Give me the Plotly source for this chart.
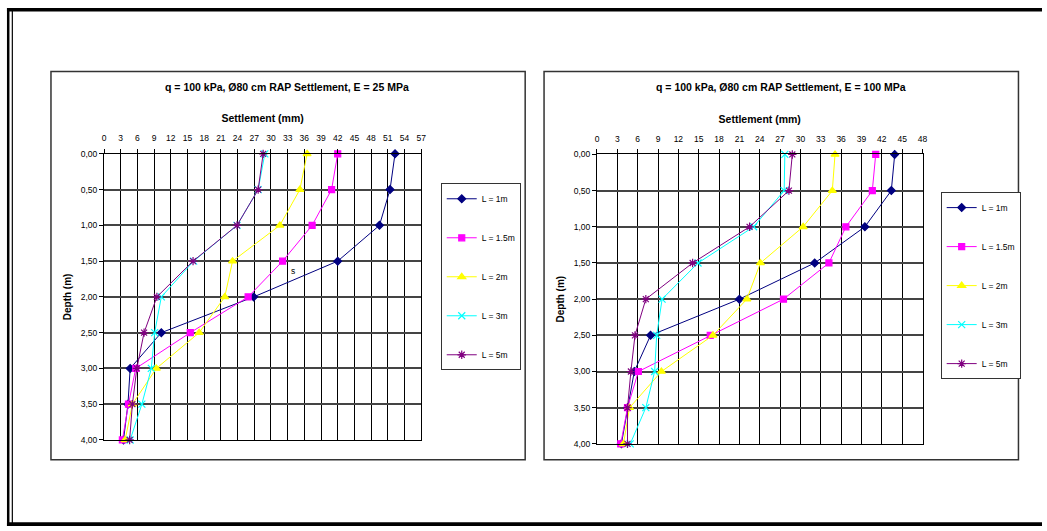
import plotly.graph_objects as go

W, H = 1047, 531

depth = [0.0, 0.5, 1.0, 1.5, 2.0, 2.5, 3.0, 3.5, 4.0]
labels = ["L = 1m", "L = 1.5m", "L = 2m", "L = 3m", "L = 5m"]

# E = 25 MPa settlements (mm)
e25_L1 = [52.3, 51.4, 49.5, 42.0, 26.9, 10.3, 4.7, 4.3, 3.5]
e25_L15 = [42.0, 40.9, 37.4, 32.1, 25.9, 15.5, 5.7, 4.4, 3.3]
e25_L2 = [36.5, 35.2, 31.6, 23.1, 21.7, 17.1, 9.4, 5.1, 3.8]
e25_L3 = [28.9, 27.7, 23.9, 16.1, 10.3, 9.1, 8.5, 6.8, 4.7]
e25_L5 = [28.6, 27.7, 23.9, 16.0, 9.5, 7.2, 5.9, 5.1, 4.6]

# E = 100 MPa settlements (mm)
e100_L1 = [43.9, 43.4, 39.5, 32.1, 21.0, 7.9, 5.5, 4.5, 3.6]
e100_L15 = [41.1, 40.6, 36.7, 34.2, 27.5, 16.7, 6.1, 4.5, 3.5]
e100_L2 = [35.1, 34.7, 30.4, 24.1, 22.1, 17.1, 9.5, 4.8, 3.9]
e100_L3 = [27.7, 27.6, 23.1, 14.9, 9.6, 8.8, 8.5, 7.2, 4.9]
e100_L5 = [28.8, 28.3, 22.5, 14.1, 7.2, 5.6, 5.0, 4.5, 4.5]

xticks_left = list(range(0, 58, 3))
xticks_right = list(range(0, 49, 3))
yticks = [0, 0.5, 1.0, 1.5, 2.0, 2.5, 3.0, 3.5, 4.0]

colors = ["#000080", "#FF00FF", "#FFFF00", "#00FFFF", "#800080"]
symbols = ["diamond", "square", "triangle-up", "x-thin-open", "asterisk-open"]
sizes = [6, 6, 7, 7, 7]

FONT = "Liberation Sans, Arial, sans-serif"


def px(x):
    return x / W


def py(y):
    return 1 - y / H


fig = go.Figure()

left_series = [e25_L1, e25_L15, e25_L2, e25_L3, e25_L5]
right_series = [e100_L1, e100_L15, e100_L2, e100_L3, e100_L5]

for i, s in enumerate(left_series):
    fig.add_trace(go.Scatter(
        x=s, y=depth, mode="lines+markers", name=labels[i],
        line=dict(color=colors[i], width=1),
        marker=dict(symbol=symbols[i], size=sizes[i], color=colors[i],
                    line=dict(color=colors[i], width=1.2)),
        xaxis="x", yaxis="y", legend="legend", legendgroup="a%d" % i,
        cliponaxis=False))

for i, s in enumerate(right_series):
    fig.add_trace(go.Scatter(
        x=s, y=depth, mode="lines+markers", name=labels[i],
        line=dict(color=colors[i], width=1),
        marker=dict(symbol=symbols[i], size=sizes[i], color=colors[i],
                    line=dict(color=colors[i], width=1.2)),
        xaxis="x2", yaxis="y2", legend="legend2", legendgroup="b%d" % i,
        cliponaxis=False))


def xaxis(domain, rng, ticks, anchor):
    return dict(domain=domain, range=rng, side="top", tickvals=ticks,
                ticktext=[str(t) for t in ticks], anchor=anchor,
                showgrid=True, gridcolor="#000000", gridwidth=1,
                showline=True, linecolor="#000000", linewidth=1, mirror=True,
                ticks="outside", ticklen=4, tickcolor="#000000",
                ticklabelstandoff=4,
                tickfont=dict(size=8.5, color="#000000", family=FONT),
                zeroline=False, fixedrange=True,
                title=dict(text="<b>Settlement (mm)</b>", standoff=8,
                           font=dict(size=10.5, color="#000000", family=FONT)))


def yaxis(domain, anchor):
    return dict(domain=domain, range=[4, 0], tickvals=yticks,
                tickformat=".2f", anchor=anchor,
                showgrid=True, gridcolor="#444444", gridwidth=1.5,
                showline=True, linecolor="#000000", linewidth=1, mirror=True,
                ticks="outside", ticklen=4, tickcolor="#000000",
                tickfont=dict(size=8.5, color="#000000", family=FONT),
                zeroline=False, fixedrange=True,
                title=dict(text="<b>Depth (m)</b>", standoff=7,
                           font=dict(size=10, color="#000000", family=FONT)))


shapes = []
# outer frame
shapes.append(dict(type="rect", xref="paper", yref="paper",
                   x0=px(5), x1=px(1047), y0=py(3), y1=py(6.5),
                   fillcolor="#000000", line=dict(width=0)))
shapes.append(dict(type="rect", xref="paper", yref="paper",
                   x0=px(5), x1=px(7.5), y0=py(3), y1=py(531),
                   fillcolor="#000000", line=dict(width=0)))
shapes.append(dict(type="rect", xref="paper", yref="paper",
                   x0=px(9.8), x1=px(11), y0=py(6), y1=py(528),
                   fillcolor="#000000", line=dict(width=0)))
shapes.append(dict(type="rect", xref="paper", yref="paper",
                   x0=px(5), x1=px(1047), y0=py(527.3), y1=py(531),
                   fillcolor="#000000", line=dict(width=0)))
# chart boxes
for (x0, x1) in [(49.3, 526.7), (545.7, 1023.3)]:
    shapes.append(dict(type="rect", xref="paper", yref="paper",
                       x0=px(x0), x1=px(x1), y0=py(463.5), y1=py(67.7),
                       line=dict(color="#333333", width=1.5)))

annotations = [
    dict(text="<b>q = 100 kPa, Ø80 cm RAP Settlement, E = 25 MPa</b>",
         x=px(287), y=py(84), xref="paper", yref="paper", showarrow=False,
         xanchor="center", yanchor="middle",
         font=dict(size=10.5, color="#000000", family=FONT)),
    dict(text="<b>q = 100 kPa, Ø80 cm RAP Settlement, E = 100 MPa</b>",
         x=px(784), y=py(84), xref="paper", yref="paper", showarrow=False,
         xanchor="center", yanchor="middle",
         font=dict(size=10.5, color="#000000", family=FONT)),
    dict(text="s", x=33.9, y=1.64, xref="x", yref="y", showarrow=False,
         font=dict(size=8.5, color="#000000", family=FONT)),
]

legend_common = dict(
    bgcolor="#FFFFFF", bordercolor="#333333", borderwidth=1,
    font=dict(size=8.5, color="#000000", family=FONT),
    tracegroupgap=20, traceorder="grouped",
    xanchor="left", yanchor="top", itemclick=False, itemdoubleclick=False)

fig.update_layout(
    width=W, height=H, autosize=False,
    margin=dict(l=0, r=0, t=0, b=0),
    paper_bgcolor="#FFFFFF", plot_bgcolor="#FFFFFF",
    separators=",.",
    showlegend=True,
    xaxis=xaxis([px(102.7), px(422)], [0, 57], xticks_left, "y"),
    yaxis=yaxis([py(443.3), py(151.7)], "x"),
    xaxis2=xaxis([px(599), px(926.7)], [0, 48], xticks_right, "y2"),
    yaxis2=yaxis([py(447.3), py(152.3)], "x2"),
    legend=dict(x=px(441.7), y=py(181.7), **legend_common),
    legend2=dict(x=px(945), y=py(190.7), **legend_common),
    shapes=shapes, annotations=annotations,
)

fig.write_html("out.html")
